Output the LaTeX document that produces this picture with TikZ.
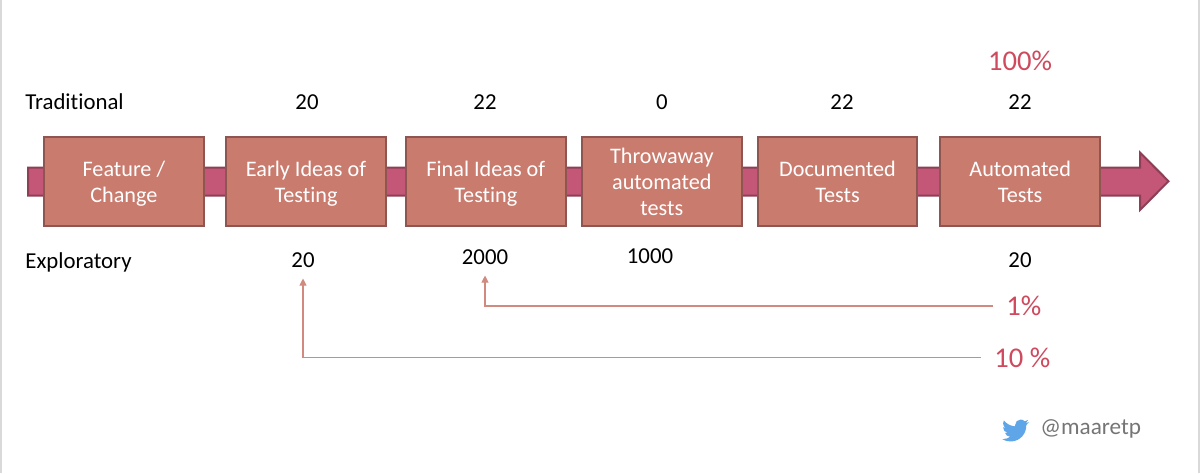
\documentclass[tikz,border=0pt]{standalone}
\usepackage{fontspec}
\setmainfont{Carlito}[Ligatures=NoCommon]
\usetikzlibrary{arrows.meta}
\definecolor{boxfill}{HTML}{C97B6E}
\definecolor{boxline}{HTML}{8F5550}
\definecolor{bandfill}{HTML}{C45678}
\definecolor{bandline}{HTML}{8E3F56}
\definecolor{conn}{HTML}{D08A7E}
\definecolor{pct}{HTML}{CF4A5E}
\definecolor{edge}{HTML}{D9D9D9}
\definecolor{bird}{HTML}{5FA6E8}
\definecolor{handle}{HTML}{757575}
\tikzset{
  stepbox/.style={draw=boxline,fill=boxfill,line width=1pt,
    minimum width=79.9pt,minimum height=44.5pt,inner sep=0pt},
  boxtext/.style={text=white,align=center,inner sep=0pt,yshift=-1.5pt,
    font=\fontsize{11.1pt}{13pt}\selectfont,
    execute at end node=\rule[-2.8pt]{0pt}{2.8pt}},
  lab/.style={text=black,font=\fontsize{11.4pt}{13pt}\selectfont,inner sep=0pt},
  pctlab/.style={text=pct,font=\fontsize{14.3pt}{16pt}\selectfont,inner sep=0pt},
  link/.style={draw=conn,line width=0.55pt,shorten >=5.3pt,-{Triangle[length=3.6pt,width=3.5pt]}},
}
\begin{document}
\begin{tikzpicture}[x=0.5pt,y=-0.5pt]
\useasboundingbox (0,0) rectangle (1200,473);
\fill[white] (0,0) rectangle (1200,473);
\fill[edge] (0,0) rectangle (2,473);
\fill[edge] (1198,0) rectangle (1200,473);
% band arrow
\draw[bandline,fill=bandfill,line width=1pt,line join=miter]
  (28,167.5) -- (1140,167.5) -- (1140,152.5) -- (1168.5,181.2) -- (1140,210) -- (1140,195.5) -- (28,195.5) -- cycle;
% boxes
\node[stepbox,label={[boxtext]center:{Feature /\\Change}}] (b1) at (123.85,181.2) {};
\node[stepbox,label={[boxtext]center:{Early Ideas of\\Testing}}] (b2) at (306,181.2) {};
\node[stepbox,label={[boxtext]center:{Final Ideas of\\Testing}}] (b3) at (485.85,181.2) {};
\node[stepbox,label={[boxtext]center:{Throwaway\\automated\\tests}}] (b4) at (661.85,181.2) {};
\node[stepbox,label={[boxtext]center:{Documented\\Tests}}] (b5) at (837.5,181.2) {};
\node[stepbox,label={[boxtext]center:{Automated\\Tests}}] (b6) at (1020.15,181.2) {};
% row labels
\node[lab,anchor=west] (trad) at (25,102) {Traditional};
\node[lab] (t2) at (307,102) {20};
\node[lab] (t3) at (485,102) {22};
\node[lab] (t4) at (662,102) {0};
\node[lab] (t5) at (842,102) {22};
\node[lab] (t6) at (1020,102) {22};
\node[pctlab] (p100) at (1020,61) {100\%};
\node[lab,anchor=west] (expl) at (25,262) {Exploratory};
\node[lab] (e2) at (303,260) {20};
\node[lab] (e3) at (485,257) {2000};
\node[lab] (e4) at (650,256) {1000};
\node[lab] (e6) at (1020,260) {20};
\node[pctlab,anchor=west] (p1) at (1006,306) {1\%};
\node[pctlab,anchor=west] (p10) at (994,357.5) {10 \%};
\draw[link,shorten <=6.5pt] (p1.west) -| (e3.south);
\draw[link,shorten <=6.5pt] (p10.west) -| (e2.south);
% twitter bird
\begin{scope}[shift={(1002,417)},scale=1.125]
\fill[bird] (23.953,4.57) .. controls (23.1,4.95) and (22.1,5.22) .. (21.128,5.345)
  .. controls (22.1,4.75) and (22.95,3.75) .. (23.291,2.622)
  .. controls (22.34,3.177) and (21.286,3.581) .. (20.164,3.806)
  .. controls (19.25,2.85) and (17.95,2.25) .. (16.57,2.25)
  .. controls (13.85,2.25) and (11.65,4.45) .. (11.65,7.17)
  .. controls (11.65,7.55) and (11.7,7.93) .. (11.78,8.288)
  .. controls (7.69,8.095) and (4.067,6.13) .. (1.64,3.162)
  .. controls (1.2,3.9) and (0.974,4.75) .. (0.974,5.637)
  .. controls (0.974,7.347) and (1.844,8.85) .. (3.162,9.733)
  .. controls (2.35,9.7) and (1.6,9.5) .. (0.934,9.117)
  -- (0.934,9.177)
  .. controls (0.934,11.5) and (2.6,13.55) .. (4.88,14.004)
  .. controls (4.15,14.2) and (3.4,14.23) .. (2.668,14.089)
  .. controls (3.3,16.1) and (5.1,17.45) .. (7.272,17.506)
  .. controls (5.6,18.8) and (3.5,19.611) .. (1.17,19.611)
  .. controls (0.78,19.611) and (0.391,19.588) .. (0,19.544)
  .. controls (2.2,20.95) and (4.8,21.753) .. (7.557,21.753)
  .. controls (16.61,21.753) and (21.555,14.257) .. (21.555,7.768)
  .. controls (21.555,7.558) and (21.555,7.348) .. (21.54,7.138)
  .. controls (22.5,6.45) and (23.35,5.55) .. (24,4.59) -- cycle;
\end{scope}
\node[text=handle,font=\fontsize{11.6pt}{14pt}\selectfont,inner sep=0pt,anchor=west] (tw) at (1040,429) {@maaretp};
\end{tikzpicture}
\end{document}
